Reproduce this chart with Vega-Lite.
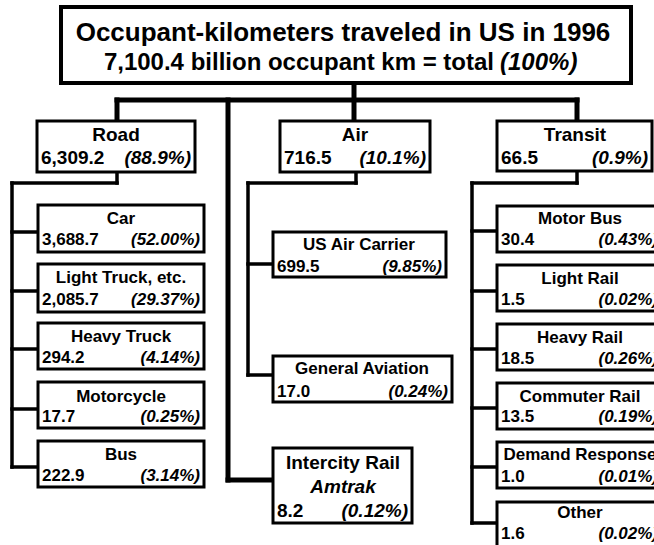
{
  "$schema": "https://vega.github.io/schema/vega-lite/v6.json",
  "width": 654,
  "height": 545,
  "autosize": {"type": "none"},
  "padding": 0,
  "background": "white",
  "config": {
    "view": {"stroke": null},
    "text": {"font": "Liberation Sans", "fontWeight": "bold", "color": "black"}
  },
  "datasets": {
    "trunk": [
      {"x": 354, "y": 83, "x2": 354, "y2": 121},
      {"x": 117, "y": 100, "x2": 577, "y2": 100},
      {"x": 117, "y": 100, "x2": 117, "y2": 121},
      {"x": 577, "y": 100, "x2": 577, "y2": 121},
      {"x": 228, "y": 100, "x2": 228, "y2": 480},
      {"x": 228, "y": 480, "x2": 273, "y2": 480}
    ],
    "branch": [
      {"x": 117, "y": 172, "x2": 117, "y2": 183},
      {"x": 12, "y": 183, "x2": 117, "y2": 183},
      {"x": 12, "y": 183, "x2": 12, "y2": 467},
      {"x": 12, "y": 232, "x2": 37, "y2": 232},
      {"x": 12, "y": 291, "x2": 37, "y2": 291},
      {"x": 12, "y": 349, "x2": 37, "y2": 349},
      {"x": 12, "y": 409, "x2": 37, "y2": 409},
      {"x": 12, "y": 467, "x2": 37, "y2": 467},
      {"x": 356, "y": 172, "x2": 356, "y2": 183},
      {"x": 248, "y": 183, "x2": 356, "y2": 183},
      {"x": 248, "y": 183, "x2": 248, "y2": 375},
      {"x": 248, "y": 264, "x2": 273, "y2": 264},
      {"x": 248, "y": 375, "x2": 273, "y2": 375},
      {"x": 577, "y": 171, "x2": 577, "y2": 183},
      {"x": 472, "y": 183, "x2": 577, "y2": 183},
      {"x": 472, "y": 183, "x2": 472, "y2": 523},
      {"x": 472, "y": 231, "x2": 497, "y2": 231},
      {"x": 472, "y": 291, "x2": 497, "y2": 291},
      {"x": 472, "y": 349, "x2": 497, "y2": 349},
      {"x": 472, "y": 408, "x2": 497, "y2": 408},
      {"x": 472, "y": 467, "x2": 497, "y2": 467},
      {"x": 472, "y": 523, "x2": 497, "y2": 523}
    ],
    "boxes": [
      {"name": "Road", "value": "6,309.2", "pct": "(88.9%)", "lvl": "cat", "x1": 37, "x2": 195, "y1": 121, "y2": 172, "cx": 116, "ny": 135, "vy": 158},
      {"name": "Air", "value": "716.5", "pct": "(10.1%)", "lvl": "cat", "x1": 280, "x2": 430, "y1": 121, "y2": 172, "cx": 355, "ny": 135, "vy": 158},
      {"name": "Transit", "value": "66.5", "pct": "(0.9%)", "lvl": "cat", "x1": 497, "x2": 652, "y1": 121, "y2": 171, "cx": 575, "ny": 135, "vy": 158},
      {"name": "Intercity Rail", "sub": "Amtrak", "value": "8.2", "pct": "(0.12%)", "lvl": "cat", "x1": 273, "x2": 412, "y1": 448, "y2": 523, "cx": 343, "ny": 463, "sy": 487, "vy": 511},
      {"name": "Car", "value": "3,688.7", "pct": "(52.00%)", "lvl": "sub", "x1": 38, "x2": 204, "y1": 205, "y2": 252, "cx": 121, "ny": 219, "vy": 240},
      {"name": "Light Truck, etc.", "value": "2,085.7", "pct": "(29.37%)", "lvl": "sub", "x1": 38, "x2": 204, "y1": 264, "y2": 312, "cx": 121, "ny": 278, "vy": 300},
      {"name": "Heavy Truck", "value": "294.2", "pct": "(4.14%)", "lvl": "sub", "x1": 38, "x2": 204, "y1": 323, "y2": 369, "cx": 121, "ny": 337, "vy": 358},
      {"name": "Motorcycle", "value": "17.7", "pct": "(0.25%)", "lvl": "sub", "x1": 38, "x2": 204, "y1": 382, "y2": 428, "cx": 121, "ny": 397, "vy": 417},
      {"name": "Bus", "value": "222.9", "pct": "(3.14%)", "lvl": "sub", "x1": 38, "x2": 204, "y1": 441, "y2": 487, "cx": 121, "ny": 455, "vy": 476},
      {"name": "US Air Carrier", "value": "699.5", "pct": "(9.85%)", "lvl": "sub", "x1": 273, "x2": 446, "y1": 232, "y2": 277, "cx": 359, "ny": 245, "vy": 267},
      {"name": "General Aviation", "value": "17.0", "pct": "(0.24%)", "lvl": "sub", "x1": 273, "x2": 452, "y1": 356, "y2": 402, "cx": 362, "ny": 369, "vy": 392},
      {"name": "Motor Bus", "value": "30.4", "pct": "(0.43%)", "lvl": "sub", "x1": 497, "x2": 662, "y1": 206, "y2": 252, "cx": 580, "ny": 219, "vy": 240},
      {"name": "Light Rail", "value": "1.5", "pct": "(0.02%)", "lvl": "sub", "x1": 497, "x2": 662, "y1": 265, "y2": 311, "cx": 580, "ny": 279, "vy": 300},
      {"name": "Heavy Rail", "value": "18.5", "pct": "(0.26%)", "lvl": "sub", "x1": 497, "x2": 662, "y1": 324, "y2": 370, "cx": 580, "ny": 338, "vy": 359},
      {"name": "Commuter Rail", "value": "13.5", "pct": "(0.19%)", "lvl": "sub", "x1": 497, "x2": 662, "y1": 383, "y2": 429, "cx": 580, "ny": 397, "vy": 417},
      {"name": "Demand Response", "value": "1.0", "pct": "(0.01%)", "lvl": "sub", "x1": 497, "x2": 662, "y1": 442, "y2": 488, "cx": 580, "ny": 455, "vy": 477},
      {"name": "Other", "value": "1.6", "pct": "(0.02%)", "lvl": "sub", "x1": 497, "x2": 662, "y1": 502, "y2": 562, "cx": 580, "ny": 513, "vy": 534}
    ],
    "top": [
      {"x1": 61, "x2": 631, "y1": 7, "y2": 83, "line1": "Occupant-kilometers traveled in US in 1996", "line2": "7,100.4 billion occupant km = total", "pct": "(100%)", "cx": 343, "y1t": 33, "y2t": 63, "splitx": 494}
    ]
  },
  "layer": [
    {
      "data": {"name": "trunk"},
      "mark": {"type": "rule", "strokeWidth": 5, "color": "black", "strokeCap": "square", "clip": true},
      "encoding": {
        "x": {"field": "x", "type": "quantitative", "scale": {"domain": [0, 654], "nice": false, "zero": false}, "axis": null},
        "x2": {"field": "x2"},
        "y": {"field": "y", "type": "quantitative", "scale": {"domain": [0, 545], "nice": false, "zero": false, "reverse": true}, "axis": null},
        "y2": {"field": "y2"}
      }
    },
    {
      "data": {"name": "branch"},
      "mark": {"type": "rule", "strokeWidth": 3.5, "color": "black", "strokeCap": "square", "clip": true},
      "encoding": {
        "x": {"field": "x", "type": "quantitative", "scale": {"domain": [0, 654], "nice": false, "zero": false}, "axis": null},
        "x2": {"field": "x2"},
        "y": {"field": "y", "type": "quantitative", "scale": {"domain": [0, 545], "nice": false, "zero": false, "reverse": true}, "axis": null},
        "y2": {"field": "y2"}
      }
    },
    {
      "data": {"name": "top"},
      "mark": {"type": "rect", "fill": "white", "stroke": "black", "strokeWidth": 4, "clip": true},
      "encoding": {
        "x": {"field": "x1", "type": "quantitative", "scale": {"domain": [0, 654], "nice": false, "zero": false}, "axis": null},
        "x2": {"field": "x2"},
        "y": {"field": "y1", "type": "quantitative", "scale": {"domain": [0, 545], "nice": false, "zero": false, "reverse": true}, "axis": null},
        "y2": {"field": "y2"}
      }
    },
    {
      "data": {"name": "boxes"},
      "mark": {"type": "rect", "fill": "white", "stroke": "black", "strokeWidth": 3, "clip": true},
      "encoding": {
        "x": {"field": "x1", "type": "quantitative", "scale": {"domain": [0, 654], "nice": false, "zero": false}, "axis": null},
        "x2": {"field": "x2"},
        "y": {"field": "y1", "type": "quantitative", "scale": {"domain": [0, 545], "nice": false, "zero": false, "reverse": true}, "axis": null},
        "y2": {"field": "y2"}
      }
    },
    {
      "data": {"name": "boxes"},
      "mark": {"type": "text", "align": "center", "baseline": "middle", "clip": true},
      "encoding": {
        "x": {"field": "cx", "type": "quantitative", "scale": {"domain": [0, 654], "nice": false, "zero": false}, "axis": null},
        "y": {"field": "ny", "type": "quantitative", "scale": {"domain": [0, 545], "nice": false, "zero": false, "reverse": true}, "axis": null},
        "text": {"field": "name"},
        "size": {"field": "lvl", "type": "nominal", "scale": {"domain": ["cat", "sub"], "range": [19, 17]}, "legend": null}
      }
    },
    {
      "data": {"name": "boxes"},
      "transform": [{"filter": "datum.sub"}],
      "mark": {"type": "text", "align": "center", "baseline": "middle", "fontStyle": "italic", "fontSize": 19, "clip": true},
      "encoding": {
        "x": {"field": "cx", "type": "quantitative", "scale": {"domain": [0, 654], "nice": false, "zero": false}, "axis": null},
        "y": {"field": "sy", "type": "quantitative", "scale": {"domain": [0, 545], "nice": false, "zero": false, "reverse": true}, "axis": null},
        "text": {"field": "sub"}
      }
    },
    {
      "data": {"name": "boxes"},
      "mark": {"type": "text", "align": "left", "baseline": "middle", "dx": 4, "clip": true},
      "encoding": {
        "x": {"field": "x1", "type": "quantitative", "scale": {"domain": [0, 654], "nice": false, "zero": false}, "axis": null},
        "y": {"field": "vy", "type": "quantitative", "scale": {"domain": [0, 545], "nice": false, "zero": false, "reverse": true}, "axis": null},
        "text": {"field": "value"},
        "size": {"field": "lvl", "type": "nominal", "scale": {"domain": ["cat", "sub"], "range": [19, 17]}, "legend": null}
      }
    },
    {
      "data": {"name": "boxes"},
      "mark": {"type": "text", "align": "right", "baseline": "middle", "dx": -4, "fontStyle": "italic", "clip": true},
      "encoding": {
        "x": {"field": "x2", "type": "quantitative", "scale": {"domain": [0, 654], "nice": false, "zero": false}, "axis": null},
        "y": {"field": "vy", "type": "quantitative", "scale": {"domain": [0, 545], "nice": false, "zero": false, "reverse": true}, "axis": null},
        "text": {"field": "pct"},
        "size": {"field": "lvl", "type": "nominal", "scale": {"domain": ["cat", "sub"], "range": [19, 17]}, "legend": null}
      }
    },
    {
      "data": {"name": "top"},
      "mark": {"type": "text", "align": "center", "baseline": "middle", "fontSize": 26},
      "encoding": {
        "x": {"field": "cx", "type": "quantitative", "scale": {"domain": [0, 654], "nice": false, "zero": false}, "axis": null},
        "y": {"field": "y1t", "type": "quantitative", "scale": {"domain": [0, 545], "nice": false, "zero": false, "reverse": true}, "axis": null},
        "text": {"field": "line1"}
      }
    },
    {
      "data": {"name": "top"},
      "mark": {"type": "text", "align": "right", "baseline": "middle", "fontSize": 24},
      "encoding": {
        "x": {"field": "splitx", "type": "quantitative", "scale": {"domain": [0, 654], "nice": false, "zero": false}, "axis": null},
        "y": {"field": "y2t", "type": "quantitative", "scale": {"domain": [0, 545], "nice": false, "zero": false, "reverse": true}, "axis": null},
        "text": {"field": "line2"}
      }
    },
    {
      "data": {"name": "top"},
      "mark": {"type": "text", "align": "left", "baseline": "middle", "fontSize": 24, "fontStyle": "italic", "dx": 6},
      "encoding": {
        "x": {"field": "splitx", "type": "quantitative", "scale": {"domain": [0, 654], "nice": false, "zero": false}, "axis": null},
        "y": {"field": "y2t", "type": "quantitative", "scale": {"domain": [0, 545], "nice": false, "zero": false, "reverse": true}, "axis": null},
        "text": {"field": "pct"}
      }
    }
  ]
}
